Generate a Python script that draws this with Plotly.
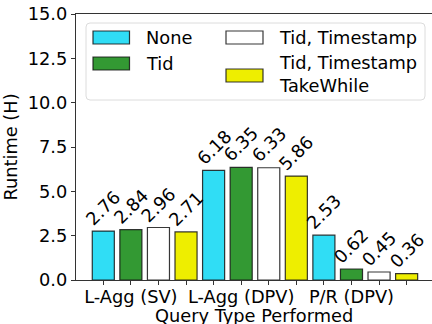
import plotly.graph_objects as go

# Runtime (hours) per query type and index configuration
categories = ["L-Agg (SV)", "L-Agg (DPV)", "P/R (DPV)"]
series_names = ["None", "Tid", "Tid, Timestamp", "Tid, Timestamp<br>TakeWhile"]
runtime_none = [2.76, 6.18, 2.53]
runtime_tid = [2.84, 6.35, 0.62]
runtime_tid_ts = [2.96, 6.33, 0.45]
runtime_takewhile = [2.71, 5.86, 0.36]
y_ticks = [0.0, 2.5, 5.0, 7.5, 10.0, 12.5, 15.0]

series_values = [runtime_none, runtime_tid, runtime_tid_ts, runtime_takewhile]
colors = ["#30ddf5", "#339933", "#ffffff", "#eeee00"]

W, H = 432, 324
L, R, T, B = 76, 0, 14, 44
PW, PH = W - L - R, H - T - B
FONT = "DejaVu Sans"
FS = 17.8

n_series = len(series_values)


def px_x(px):
    return (px - L) / PW


def px_y(py):
    return (H - B - py) / PH


fig = go.Figure()
annotations = []
for s, (name, vals, col) in enumerate(zip(series_names, series_values, colors)):
    xs = [g * n_series + s for g in range(len(categories))]
    fig.add_trace(go.Bar(
        x=xs, y=vals, width=0.8, name=name, showlegend=False,
        marker=dict(color=col, line=dict(color="rgba(20,20,20,0.85)", width=1.2)),
    ))
    for x, v in zip(xs, vals):
        annotations.append(dict(
            x=x, y=v, xref="x", yref="y", text=f"{v:.2f}", showarrow=False,
            textangle=-45, xanchor="center", yanchor="bottom", yshift=-1,
            font=dict(family=FONT, size=FS, color="black"),
        ))

# Legend drawn as a framed box with two columns
shapes = []
lx0, lx1, ly0, ly1, rad = 86, 425, 23, 100, 4
path = (
    f"M {px_x(lx0 + rad)} {px_y(ly0)} L {px_x(lx1 - rad)} {px_y(ly0)} "
    f"Q {px_x(lx1)} {px_y(ly0)} {px_x(lx1)} {px_y(ly0 + rad)} "
    f"L {px_x(lx1)} {px_y(ly1 - rad)} Q {px_x(lx1)} {px_y(ly1)} {px_x(lx1 - rad)} {px_y(ly1)} "
    f"L {px_x(lx0 + rad)} {px_y(ly1)} Q {px_x(lx0)} {px_y(ly1)} {px_x(lx0)} {px_y(ly1 - rad)} "
    f"L {px_x(lx0)} {px_y(ly0 + rad)} Q {px_x(lx0)} {px_y(ly0)} {px_x(lx0 + rad)} {px_y(ly0)} Z"
)
shapes.append(dict(type="path", xref="paper", yref="paper", path=path,
                   fillcolor="rgba(255,255,255,0.85)", line=dict(color="#dcdcdc", width=1)))

legend_slots = [
    (93, 129.5, 31, 44, 144, 37.5),
    (93, 129.5, 57, 70, 144, 63.5),
    (226, 263, 31, 44, 277, 37.5),
    (226, 263, 69, 82, 277, 74.5),
]
for (x0, x1, y0, y1, tx, ty), name, col in zip(legend_slots, series_names, colors):
    shapes.append(dict(type="rect", xref="paper", yref="paper",
                       x0=px_x(x0), x1=px_x(x1), y0=px_y(y1), y1=px_y(y0),
                       fillcolor=col, line=dict(color="rgba(20,20,20,0.85)", width=1.2)))
    annotations.append(dict(
        x=px_x(tx), y=px_y(ty), xref="paper", yref="paper", text=name,
        showarrow=False, xanchor="left", yanchor="middle", align="left",
        font=dict(family=FONT, size=FS, color="black"),
    ))

# x-axis title, placed just under the category labels
annotations.append(dict(
    x=px_x(254), y=px_y(315), xref="paper", yref="paper", text="Query Type Performed",
    showarrow=False, xanchor="center", yanchor="middle",
    font=dict(family=FONT, size=FS, color="black"),
))

tick_vals = [g * n_series + s for g in range(len(categories)) for s in range(n_series)]
tick_text = [categories[g] if s == 1 else "" for g in range(len(categories)) for s in range(n_series)]

fig.update_layout(
    width=W, height=H,
    margin=dict(l=L, r=R, t=T, b=B, pad=0),
    paper_bgcolor="white", plot_bgcolor="white",
    barmode="overlay",
    font=dict(family=FONT, size=FS, color="black"),
    shapes=shapes, annotations=annotations,
    xaxis=dict(
        range=[-0.99, 11.92], tickvals=tick_vals, ticktext=tick_text,
        ticks="outside", ticklen=4, tickcolor="#333", tickwidth=1.2,
        ticklabelstandoff=-4,
        showline=True, linecolor="#333", linewidth=1.4, mirror=True,
        showgrid=False, zeroline=False,
    ),
    yaxis=dict(
        range=[0, 15], tickvals=y_ticks, ticktext=[f"{v:.1f}" for v in y_ticks],
        ticks="outside", ticklen=4, tickcolor="#333", tickwidth=1.2,
        showline=True, linecolor="#333", linewidth=1.4,
        showgrid=False, zeroline=False,
        title=dict(text="Runtime (H)", standoff=6, font=dict(size=FS)),
    ),
)

fig.write_html("out.html")
